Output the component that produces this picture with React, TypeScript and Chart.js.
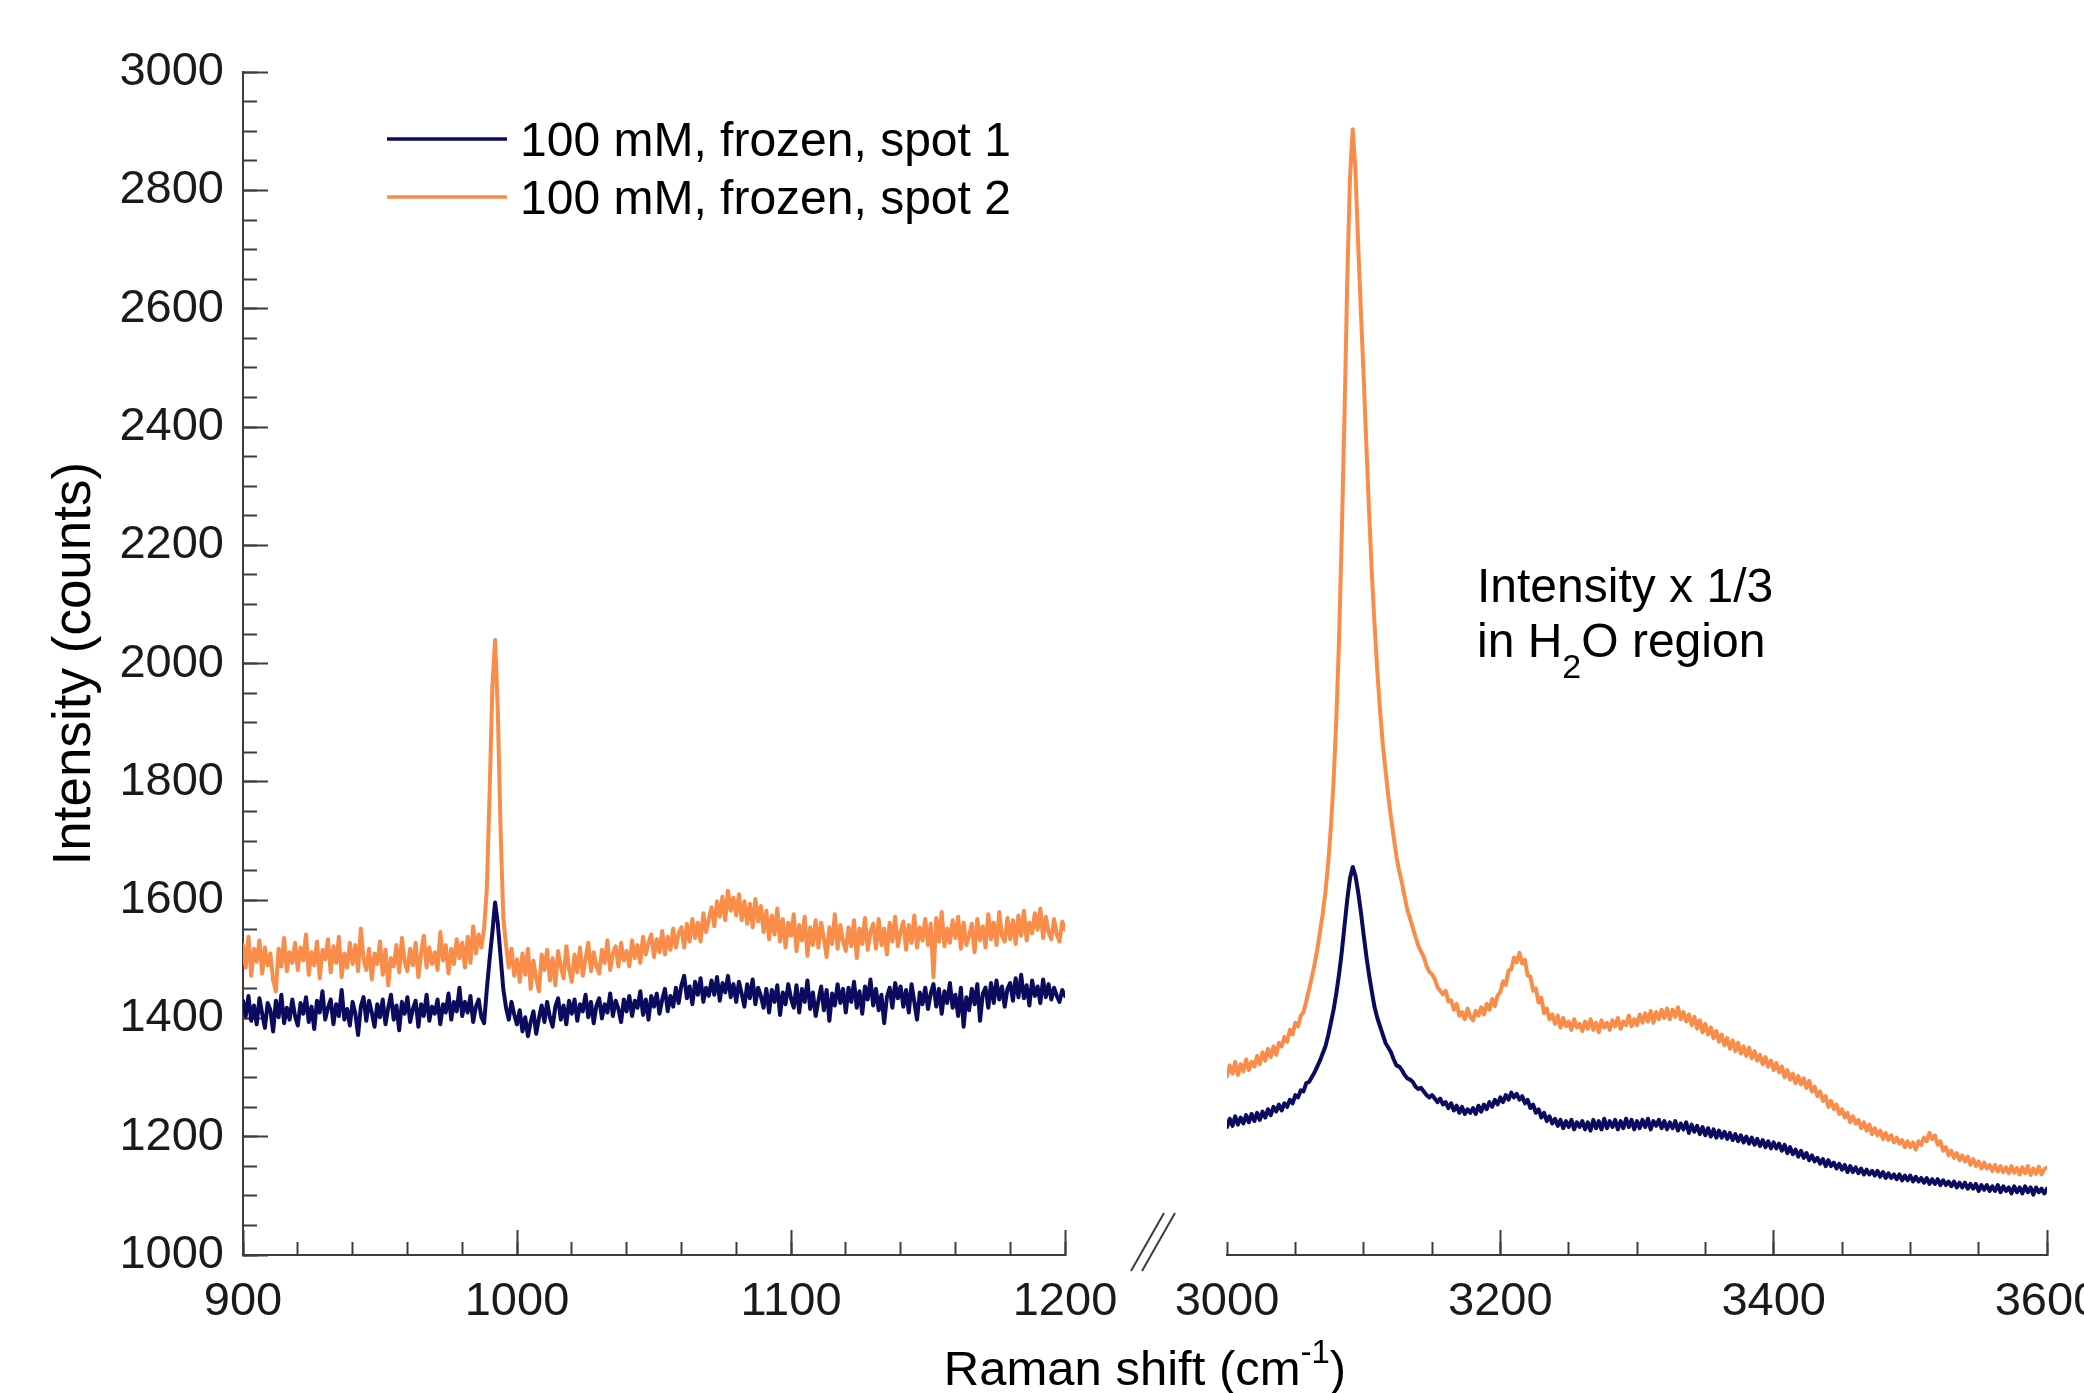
import React, { useEffect, useRef } from 'react';
import { Chart, registerables } from 'chart.js';

Chart.register(...registerables);

const W = 2084;
const H = 1393;
const FONT = '"Liberation Sans", Arial, Helvetica, sans-serif';
const NAVY = '#0a0b5f';
const ORANGE = '#fa8c4a';
const AXIS = '#3c3c3c';
const TEXT = '#1a1a1a';

// plot frame (pixels in the 2084x1393 page)
const PLOT_TOP = 70;
const PLOT_BOTTOM = 1255;
const LEFT_X0 = 243;
const LEFT_X1 = 1065;
const RIGHT_X0 = 1227;
const RIGHT_X1 = 2047;

const seriesLabels = ['100 mM, frozen, spot 1', '100 mM, frozen, spot 2'];
const yAxisTitle = 'Intensity (counts)';
const xAxisTitleMain = 'Raman shift (cm';
const xAxisTitleSup = '-1';
const xAxisTitleEnd = ')';
const noteLine1 = 'Intensity x 1/3';
const noteLine2 = ['in H', '2', 'O region'];

const yMin = 1000;
const yMax = 3000;
const yMajorStep = 200;
const yMinorStep = 50;
const leftMin = 900;
const leftMax = 1200;
const leftMajorStep = 100;
const leftMinorStep = 20;
const rightMin = 3000;
const rightMax = 3600;
const rightMajorStep = 200;
const rightMinorStep = 50;

// ---------- data: fingerprint region (900-1200 cm-1) ----------
const ramanLeft = [
  900, 901, 902, 903, 904, 905, 906, 907, 908, 909,
  910, 911, 912, 913, 914, 915, 916, 917, 918, 919,
  920, 921, 922, 923, 924, 925, 926, 927, 928, 929,
  930, 931, 932, 933, 934, 935, 936, 937, 938, 939,
  940, 941, 942, 943, 944, 945, 946, 947, 948, 949,
  950, 951, 952, 953, 954, 955, 956, 957, 958, 959,
  960, 961, 962, 963, 964, 965, 966, 967, 968, 969,
  970, 971, 972, 973, 974, 975, 976, 977, 978, 979,
  980, 981, 982, 983, 984, 985, 986, 987, 988, 989,
  990, 991, 992, 993, 994, 995, 996, 997, 998, 999,
  1000, 1001, 1002, 1003, 1004, 1005, 1006, 1007, 1008, 1009,
  1010, 1011, 1012, 1013, 1014, 1015, 1016, 1017, 1018, 1019,
  1020, 1021, 1022, 1023, 1024, 1025, 1026, 1027, 1028, 1029,
  1030, 1031, 1032, 1033, 1034, 1035, 1036, 1037, 1038, 1039,
  1040, 1041, 1042, 1043, 1044, 1045, 1046, 1047, 1048, 1049,
  1050, 1051, 1052, 1053, 1054, 1055, 1056, 1057, 1058, 1059,
  1060, 1061, 1062, 1063, 1064, 1065, 1066, 1067, 1068, 1069,
  1070, 1071, 1072, 1073, 1074, 1075, 1076, 1077, 1078, 1079,
  1080, 1081, 1082, 1083, 1084, 1085, 1086, 1087, 1088, 1089,
  1090, 1091, 1092, 1093, 1094, 1095, 1096, 1097, 1098, 1099,
  1100, 1101, 1102, 1103, 1104, 1105, 1106, 1107, 1108, 1109,
  1110, 1111, 1112, 1113, 1114, 1115, 1116, 1117, 1118, 1119,
  1120, 1121, 1122, 1123, 1124, 1125, 1126, 1127, 1128, 1129,
  1130, 1131, 1132, 1133, 1134, 1135, 1136, 1137, 1138, 1139,
  1140, 1141, 1142, 1143, 1144, 1145, 1146, 1147, 1148, 1149,
  1150, 1151, 1152, 1153, 1154, 1155, 1156, 1157, 1158, 1159,
  1160, 1161, 1162, 1163, 1164, 1165, 1166, 1167, 1168, 1169,
  1170, 1171, 1172, 1173, 1174, 1175, 1176, 1177, 1178, 1179,
  1180, 1181, 1182, 1183, 1184, 1185, 1186, 1187, 1188, 1189,
  1190, 1191, 1192, 1193, 1194, 1195, 1196, 1197, 1198, 1199,
  1200,
];

const spot1Left = [
  1430, 1404, 1438, 1396, 1422, 1390, 1434, 1408, 1384, 1426,
  1414, 1378, 1430, 1402, 1440, 1392, 1418, 1398, 1432, 1404,
  1388, 1426, 1408, 1436, 1394, 1420, 1382, 1430, 1410, 1446,
  1398, 1418, 1432, 1390, 1424, 1404, 1448, 1398, 1416, 1388,
  1428, 1408, 1372, 1420, 1436, 1396, 1430, 1410, 1386, 1424,
  1402, 1432, 1390, 1418, 1440, 1398, 1422, 1380, 1428, 1408,
  1436, 1394, 1416, 1430, 1386, 1424, 1404, 1440, 1396, 1420,
  1408, 1432, 1390, 1424, 1410, 1442, 1398, 1428, 1412, 1452,
  1404, 1428, 1410, 1438, 1394, 1420, 1432, 1402, 1392, 1450,
  1500, 1545, 1596, 1560, 1505, 1450, 1418, 1398, 1428, 1406,
  1390, 1414, 1378, 1402, 1370, 1394, 1412, 1374, 1400, 1422,
  1394, 1428, 1402, 1386, 1420, 1434, 1398, 1422, 1390, 1430,
  1408, 1432, 1396, 1424, 1412, 1440, 1402, 1428, 1392, 1422,
  1434, 1400, 1424, 1410, 1442, 1404, 1430, 1416, 1394, 1432,
  1412, 1438, 1404, 1430, 1418, 1446, 1406, 1432, 1398, 1438,
  1420, 1442, 1408, 1432, 1450, 1412, 1438, 1420, 1452, 1426,
  1456, 1472, 1434, 1454, 1424, 1462, 1440, 1468, 1428, 1452,
  1438, 1464, 1440, 1470, 1430, 1460, 1444, 1472, 1436, 1458,
  1428, 1462, 1442, 1420, 1458, 1434, 1466, 1424, 1452, 1438,
  1418, 1450, 1410, 1448, 1428, 1456, 1406, 1444, 1424, 1458,
  1434, 1418, 1456, 1410, 1450, 1428, 1464, 1416, 1444, 1404,
  1430, 1454, 1414, 1448, 1396, 1442, 1422, 1458, 1426, 1450,
  1410, 1452, 1428, 1462, 1418, 1446, 1408, 1454, 1432, 1466,
  1422, 1450, 1414, 1440, 1392, 1436, 1452, 1418, 1460, 1434,
  1454, 1420, 1448, 1410, 1458, 1428, 1398, 1444, 1424, 1452,
  1416, 1442, 1458, 1420, 1450, 1408, 1446, 1426, 1460, 1418,
  1440, 1404, 1452, 1386, 1436, 1414, 1450, 1424, 1458, 1396,
  1442, 1452, 1418, 1460, 1426, 1464, 1432, 1454, 1420, 1450,
  1460, 1430, 1468, 1436, 1474, 1434, 1456, 1422, 1464, 1438,
  1454, 1426, 1466, 1436, 1458, 1432, 1452, 1438, 1428, 1448,
  1438,
];

const spot2Left = [
  1524, 1486, 1538, 1472, 1518, 1496, 1532, 1476, 1520, 1490,
  1510, 1464, 1446, 1518, 1488, 1536, 1480, 1512, 1494, 1528,
  1482, 1520, 1498, 1542, 1474, 1512, 1490, 1530, 1468, 1516,
  1500, 1534, 1478, 1522, 1494, 1538, 1470, 1510, 1486, 1528,
  1492, 1524, 1480, 1552, 1500, 1482, 1518, 1466, 1510, 1492,
  1530, 1474, 1516, 1456, 1502, 1488, 1524, 1478, 1536, 1496,
  1480, 1518, 1490, 1528, 1470, 1510, 1540, 1486, 1520, 1492,
  1512, 1482, 1546, 1498, 1524, 1476, 1518, 1492, 1534, 1502,
  1528, 1486, 1538, 1494, 1556, 1510, 1542, 1520, 1552, 1620,
  1780, 1960, 2040, 1920, 1720, 1570, 1524, 1486, 1518, 1472,
  1500, 1462, 1510, 1474, 1518, 1450, 1498, 1468, 1446, 1508,
  1482, 1516, 1464, 1502, 1456, 1514, 1488, 1468, 1522, 1484,
  1462, 1508, 1478, 1520, 1472, 1500, 1528, 1480, 1512, 1488,
  1476, 1516, 1494, 1532, 1482, 1510, 1522, 1488, 1528, 1498,
  1514, 1488, 1532, 1502, 1524, 1494, 1538, 1508, 1528, 1542,
  1504, 1534, 1512, 1548, 1508, 1538, 1516, 1552, 1520, 1544,
  1554, 1520, 1560, 1530, 1568, 1536, 1562, 1530, 1578, 1546,
  1568, 1588, 1556, 1598, 1572, 1606, 1566, 1616, 1582, 1604,
  1574, 1610, 1566, 1598, 1560, 1594, 1554, 1602, 1564, 1590,
  1546, 1582, 1534, 1574, 1542, 1586, 1530, 1568, 1520, 1562,
  1540, 1576, 1514, 1558, 1532, 1572, 1506, 1554, 1524, 1566,
  1520, 1562, 1536, 1504, 1554, 1526, 1576, 1518, 1558, 1530,
  1514, 1554, 1522, 1566, 1502, 1552, 1526, 1570, 1516, 1546,
  1560, 1518, 1568, 1524, 1552, 1508, 1562, 1530, 1572, 1522,
  1546, 1564, 1516, 1558, 1528, 1574, 1520, 1554, 1532, 1568,
  1524, 1560, 1470, 1570, 1530, 1580, 1522, 1552, 1528, 1566,
  1536, 1572, 1518, 1562, 1524, 1540, 1560, 1512, 1568, 1532,
  1556, 1520, 1576, 1534, 1562, 1524, 1580, 1540, 1530, 1570,
  1534, 1566, 1526, 1574, 1540, 1582, 1532, 1562, 1544, 1578,
  1550, 1586, 1536, 1572, 1546, 1534, 1568, 1542, 1530, 1564,
  1550,
];

// ---------- data: O-H stretch region (3000-3600 cm-1), intensity x 1/3 ----------
const ramanRight = [
  3000, 3002, 3004, 3006, 3008, 3010, 3012, 3014, 3016, 3018,
  3020, 3022, 3024, 3026, 3028, 3030, 3032, 3034, 3036, 3038,
  3040, 3042, 3044, 3046, 3048, 3050, 3052, 3054, 3056, 3058,
  3060, 3062, 3064, 3066, 3068, 3070, 3072, 3074, 3076, 3078,
  3080, 3082, 3084, 3086, 3088, 3090, 3092, 3094, 3096, 3098,
  3100, 3102, 3104, 3106, 3108, 3110, 3112, 3114, 3116, 3118,
  3120, 3122, 3124, 3126, 3128, 3130, 3132, 3134, 3136, 3138,
  3140, 3142, 3144, 3146, 3148, 3150, 3152, 3154, 3156, 3158,
  3160, 3162, 3164, 3166, 3168, 3170, 3172, 3174, 3176, 3178,
  3180, 3182, 3184, 3186, 3188, 3190, 3192, 3194, 3196, 3198,
  3200, 3202, 3204, 3206, 3208, 3210, 3212, 3214, 3216, 3218,
  3220, 3222, 3224, 3226, 3228, 3230, 3232, 3234, 3236, 3238,
  3240, 3242, 3244, 3246, 3248, 3250, 3252, 3254, 3256, 3258,
  3260, 3262, 3264, 3266, 3268, 3270, 3272, 3274, 3276, 3278,
  3280, 3282, 3284, 3286, 3288, 3290, 3292, 3294, 3296, 3298,
  3300, 3302, 3304, 3306, 3308, 3310, 3312, 3314, 3316, 3318,
  3320, 3322, 3324, 3326, 3328, 3330, 3332, 3334, 3336, 3338,
  3340, 3342, 3344, 3346, 3348, 3350, 3352, 3354, 3356, 3358,
  3360, 3362, 3364, 3366, 3368, 3370, 3372, 3374, 3376, 3378,
  3380, 3382, 3384, 3386, 3388, 3390, 3392, 3394, 3396, 3398,
  3400, 3402, 3404, 3406, 3408, 3410, 3412, 3414, 3416, 3418,
  3420, 3422, 3424, 3426, 3428, 3430, 3432, 3434, 3436, 3438,
  3440, 3442, 3444, 3446, 3448, 3450, 3452, 3454, 3456, 3458,
  3460, 3462, 3464, 3466, 3468, 3470, 3472, 3474, 3476, 3478,
  3480, 3482, 3484, 3486, 3488, 3490, 3492, 3494, 3496, 3498,
  3500, 3502, 3504, 3506, 3508, 3510, 3512, 3514, 3516, 3518,
  3520, 3522, 3524, 3526, 3528, 3530, 3532, 3534, 3536, 3538,
  3540, 3542, 3544, 3546, 3548, 3550, 3552, 3554, 3556, 3558,
  3560, 3562, 3564, 3566, 3568, 3570, 3572, 3574, 3576, 3578,
  3580, 3582, 3584, 3586, 3588, 3590, 3592, 3594, 3596, 3598,
  3600,
];

const spot1Right = [
  1216, 1230, 1218, 1234, 1220, 1232, 1222, 1236, 1224, 1238,
  1226, 1240, 1228, 1242, 1232, 1246, 1236, 1250, 1242, 1254,
  1244, 1256, 1250, 1262, 1256, 1270, 1266, 1278, 1276, 1290,
  1292, 1300, 1308, 1318, 1328, 1340, 1352, 1370, 1392, 1414,
  1442, 1474, 1512, 1556, 1600, 1636, 1655, 1640, 1612, 1578,
  1540, 1504, 1472, 1444, 1418, 1400, 1386, 1372, 1358, 1350,
  1342, 1330, 1320, 1318, 1312, 1304, 1298, 1296, 1292, 1284,
  1280, 1282, 1276, 1270, 1266, 1270, 1264, 1258, 1264, 1254,
  1258, 1248, 1256, 1244, 1252, 1240, 1250, 1238, 1246, 1240,
  1248, 1238, 1252, 1242, 1254, 1246, 1258, 1250, 1262, 1254,
  1266, 1258, 1270, 1262, 1274, 1266, 1272, 1262, 1268, 1256,
  1262, 1248, 1254, 1240, 1246, 1232, 1240, 1226, 1234, 1222,
  1230, 1218, 1228, 1214, 1226, 1216, 1228, 1212, 1224, 1216,
  1226, 1212, 1224, 1210, 1228, 1214, 1226, 1212, 1230, 1214,
  1226, 1216, 1228, 1212, 1226, 1214, 1230, 1216, 1228, 1212,
  1226, 1214, 1228, 1216, 1230, 1212, 1226, 1218, 1228, 1214,
  1226, 1212, 1224, 1214, 1226, 1210, 1222, 1212, 1224, 1206,
  1220, 1208, 1218, 1204, 1216, 1202, 1214, 1200, 1212, 1198,
  1210, 1198, 1208, 1196, 1206, 1194, 1204, 1192, 1202, 1190,
  1200, 1188, 1198, 1186, 1196, 1184, 1194, 1182, 1192, 1180,
  1190, 1180, 1188, 1176, 1186, 1172, 1182, 1170, 1178, 1166,
  1176, 1164, 1172, 1160, 1168, 1158, 1164, 1154, 1162, 1150,
  1160, 1150, 1156, 1146, 1154, 1144, 1152, 1140, 1150, 1140,
  1148, 1138, 1146, 1136, 1144, 1136, 1142, 1134, 1142, 1132,
  1140, 1130, 1138, 1130, 1136, 1128, 1136, 1126, 1134, 1126,
  1134, 1124, 1132, 1124, 1130, 1122, 1130, 1120, 1128, 1120,
  1128, 1118, 1126, 1118, 1124, 1116, 1124, 1114, 1122, 1114,
  1122, 1112, 1120, 1112, 1120, 1108, 1118, 1110, 1118, 1108,
  1116, 1108, 1118, 1106, 1116, 1108, 1114, 1104, 1116, 1106,
  1114, 1104, 1116, 1106, 1114, 1102, 1114, 1106, 1112, 1104,
  1112,
];

const spot2Right = [
  1302, 1320, 1306, 1326, 1304, 1322, 1310, 1330, 1312, 1326,
  1318, 1336, 1322, 1342, 1328, 1348, 1334, 1352, 1338, 1358,
  1352, 1368, 1360, 1380, 1372, 1392, 1386, 1404, 1410, 1428,
  1448, 1468, 1490, 1515, 1545, 1575, 1612, 1660, 1722, 1800,
  1905, 2040, 2218, 2420, 2645, 2820, 2900, 2830, 2705, 2590,
  2482, 2365, 2252, 2150, 2062, 1985, 1918, 1862, 1818, 1775,
  1738, 1705, 1672, 1648, 1628, 1604, 1582, 1568, 1552, 1536,
  1522, 1512, 1503, 1488, 1478, 1474, 1466, 1452, 1446, 1440,
  1446, 1428, 1430, 1414, 1424, 1404, 1410, 1398, 1416, 1402,
  1396, 1412, 1404, 1418, 1406, 1424, 1414, 1432, 1420, 1438,
  1444, 1462, 1456, 1480, 1482, 1502, 1494, 1510, 1492, 1498,
  1472, 1470, 1446, 1450, 1426, 1434, 1408, 1416, 1398, 1406,
  1390, 1404, 1384, 1400, 1386, 1394, 1380, 1398, 1384, 1390,
  1378, 1394, 1382, 1398, 1380, 1392, 1376, 1396, 1384, 1392,
  1380, 1396, 1386, 1400, 1382, 1394, 1388, 1404, 1386, 1398,
  1388, 1406, 1392, 1408, 1394, 1412, 1392, 1410, 1398, 1414,
  1400, 1416, 1398, 1414, 1402, 1418, 1398, 1410, 1394, 1406,
  1388, 1402, 1382, 1396, 1376, 1390, 1372, 1384, 1366, 1378,
  1360, 1372, 1354, 1366, 1348, 1362, 1344, 1358, 1340, 1352,
  1336, 1350, 1332, 1344, 1328, 1338, 1322, 1334, 1318, 1328,
  1312, 1324, 1308, 1318, 1300, 1312, 1296, 1306, 1290, 1302,
  1288, 1298, 1282, 1294, 1276, 1284, 1268, 1276, 1260, 1268,
  1250, 1260, 1246, 1254, 1238, 1246, 1232, 1240, 1224, 1234,
  1222, 1228, 1214, 1224, 1210, 1220, 1204, 1214, 1202, 1210,
  1196, 1206, 1194, 1202, 1190, 1198, 1188, 1194, 1182, 1192,
  1182, 1190, 1178, 1192, 1186, 1198, 1192, 1206, 1196, 1202,
  1186, 1192, 1176, 1182, 1168, 1176, 1164, 1172, 1160, 1168,
  1158, 1166, 1152, 1162, 1150, 1158, 1146, 1156, 1146, 1152,
  1142, 1152, 1141, 1150, 1140, 1148, 1138, 1150, 1139, 1147,
  1136, 1148, 1138, 1150, 1135, 1146, 1137, 1149, 1136, 1145,
  1148,
];

const seriesColors = [NAVY, ORANGE];

function makeDatasets(xs: number[], series: number[][]) {
  return series.map((ys, i) => ({
    label: seriesLabels[i],
    data: xs.map((x, j) => ({ x, y: ys[j] })),
    borderColor: seriesColors[i],
    backgroundColor: seriesColors[i],
    borderWidth: 4,
    borderJoinStyle: 'round' as const,
    borderCapStyle: 'round' as const,
    pointRadius: 0,
    tension: 0,
    fill: false,
    xAxisID: 'x',
    yAxisID: 'y',
    order: series.length - i,
  }));
}

const tickFont = { family: FONT, size: 47 };

function majorX(min: number, max: number, step: number, hideAt: number | null) {
  return {
    type: 'linear' as const,
    position: 'bottom' as const,
    min,
    max,
    weight: 2,
    ticks: {
      stepSize: step,
      autoSkip: false,
      maxRotation: 0,
      minRotation: 0,
      padding: 44,
      color: TEXT,
      font: tickFont,
      callback: (v: any) => String(v),
    },
    grid: {
      display: true,
      drawOnChartArea: false,
      drawTicks: true,
      tickLength: -25,
      tickWidth: 2,
      tickColor: (c: any) => (hideAt !== null && c.tick && c.tick.value === hideAt ? 'rgba(0,0,0,0)' : AXIS),
    },
    border: { display: true, color: AXIS, width: 2 },
    afterFit: (s: any) => {
      s.height = H - PLOT_BOTTOM;
      s.paddingLeft = 0;
      s.paddingRight = 0;
    },
  };
}

function minorX(min: number, max: number, step: number) {
  return {
    type: 'linear' as const,
    position: 'bottom' as const,
    min,
    max,
    weight: 0,
    ticks: { stepSize: step, display: false },
    grid: { display: true, drawOnChartArea: false, drawTicks: true, tickLength: -13, tickWidth: 2, tickColor: AXIS },
    border: { display: false },
    afterFit: (s: any) => {
      s.height = 0;
      s.paddingLeft = 0;
      s.paddingRight = 0;
    },
  };
}

const leftDecor = {
  id: 'leftDecor',
  afterDraw(chart: any) {
    const ctx = chart.ctx as CanvasRenderingContext2D;
    ctx.save();
    // legend
    chart.data.datasets.forEach((ds: any, i: number) => {
      const y = 139 + i * 58;
      ctx.strokeStyle = ds.borderColor;
      ctx.lineWidth = 3.5;
      ctx.beginPath();
      ctx.moveTo(387, y);
      ctx.lineTo(507, y);
      ctx.stroke();
      ctx.fillStyle = '#000';
      ctx.font = `48px ${FONT}`;
      ctx.textAlign = 'left';
      ctx.textBaseline = 'alphabetic';
      ctx.fillText(ds.label, 520, y + 16.5);
    });
    // axis break marks
    ctx.strokeStyle = AXIS;
    ctx.lineWidth = 2;
    [[1131, 1271, 1164, 1213], [1142, 1271, 1175, 1213]].forEach(([a, b, c, d]) => {
      ctx.beginPath();
      ctx.moveTo(a, b);
      ctx.lineTo(c, d);
      ctx.stroke();
    });
    // shared x-axis title with superscript
    const mainFont = `49px ${FONT}`;
    const supFont = `33px ${FONT}`;
    ctx.font = mainFont;
    const w1 = ctx.measureText(xAxisTitleMain).width;
    const w3 = ctx.measureText(xAxisTitleEnd).width;
    ctx.font = supFont;
    const w2 = ctx.measureText(xAxisTitleSup).width;
    const cx = (LEFT_X0 + RIGHT_X1) / 2;
    let x = cx - (w1 + w2 + w3) / 2;
    const base = 1385;
    ctx.fillStyle = '#000';
    ctx.textAlign = 'left';
    ctx.textBaseline = 'alphabetic';
    ctx.font = mainFont;
    ctx.fillText(xAxisTitleMain, x, base);
    x += w1;
    ctx.font = supFont;
    ctx.fillText(xAxisTitleSup, x, base - 22);
    x += w2;
    ctx.font = mainFont;
    ctx.fillText(xAxisTitleEnd, x, base);
    ctx.restore();
  },
};

const rightDecor = {
  id: 'rightDecor',
  afterDraw(chart: any) {
    const ctx = chart.ctx as CanvasRenderingContext2D;
    ctx.save();
    const mainFont = `48px ${FONT}`;
    const subFont = `34px ${FONT}`;
    ctx.fillStyle = '#000';
    ctx.textAlign = 'left';
    ctx.textBaseline = 'alphabetic';
    const x0 = 1477;
    ctx.font = mainFont;
    ctx.fillText(noteLine1, x0, 602);
    let x = x0;
    ctx.fillText(noteLine2[0], x, 657);
    x += ctx.measureText(noteLine2[0]).width;
    ctx.font = subFont;
    ctx.fillText(noteLine2[1], x, 678);
    x += ctx.measureText(noteLine2[1]).width;
    ctx.font = mainFont;
    ctx.fillText(noteLine2[2], x, 657);
    ctx.restore();
  },
};

function leftConfig(): any {
  return {
    type: 'line',
    data: { datasets: makeDatasets(ramanLeft, [spot1Left, spot2Left]) },
    options: {
      responsive: false,
      animation: false,
      devicePixelRatio: 1,
      events: [],
      layout: { padding: { left: 0, top: PLOT_TOP, right: W - LEFT_X1, bottom: 0 } },
      plugins: { legend: { display: false }, tooltip: { enabled: false } },
      scales: {
        x: majorX(leftMin, leftMax, leftMajorStep, null),
        xMinor: minorX(leftMin, leftMax, leftMinorStep),
        y: {
          type: 'linear',
          position: 'left',
          min: yMin,
          max: yMax,
          weight: 2,
          ticks: {
            stepSize: yMajorStep,
            padding: 44,
            color: TEXT,
            font: tickFont,
            callback: (v: any) => String(v),
          },
          grid: { display: true, drawOnChartArea: false, drawTicks: true, tickLength: -25, tickWidth: 2, tickColor: AXIS },
          border: { display: true, color: AXIS, width: 2 },
          title: {
            display: true,
            text: yAxisTitle,
            color: '#000',
            font: { family: FONT, size: 53 },
            padding: { top: 44, bottom: 0 },
          },
          afterFit: (s: any) => {
            s.width = LEFT_X0;
          },
        },
        yMinor: {
          type: 'linear',
          position: 'left',
          min: yMin,
          max: yMax,
          weight: 0,
          ticks: { stepSize: yMinorStep, display: false },
          grid: { display: true, drawOnChartArea: false, drawTicks: true, tickLength: -14, tickWidth: 2, tickColor: AXIS },
          border: { display: false },
          afterFit: (s: any) => {
            s.width = 0;
          },
        },
      },
    },
    plugins: [leftDecor],
  };
}

function rightConfig(): any {
  return {
    type: 'line',
    data: { datasets: makeDatasets(ramanRight, [spot1Right, spot2Right]) },
    options: {
      responsive: false,
      animation: false,
      devicePixelRatio: 1,
      events: [],
      layout: { padding: { left: RIGHT_X0, top: PLOT_TOP, right: W - RIGHT_X1, bottom: 0 } },
      plugins: { legend: { display: false }, tooltip: { enabled: false } },
      scales: {
        x: majorX(rightMin, rightMax, rightMajorStep, rightMin),
        xMinor: minorX(rightMin, rightMax, rightMinorStep),
        y: { type: 'linear', display: false, min: yMin, max: yMax },
      },
    },
    plugins: [rightDecor],
  };
}

export default function App() {
  const leftRef = useRef<HTMLCanvasElement>(null);
  const rightRef = useRef<HTMLCanvasElement>(null);

  useEffect(() => {
    const left = new Chart(leftRef.current as HTMLCanvasElement, leftConfig());
    const right = new Chart(rightRef.current as HTMLCanvasElement, rightConfig());
    return () => {
      left.destroy();
      right.destroy();
    };
  }, []);

  const canvasStyle: React.CSSProperties = { position: 'absolute', left: 0, top: 0, width: W, height: H };

  return (
    <div style={{ position: 'fixed', left: 0, top: 0, width: W, height: H, overflow: 'hidden', background: '#ffffff' }}>
      <canvas ref={leftRef} width={W} height={H} style={canvasStyle} />
      <canvas ref={rightRef} width={W} height={H} style={canvasStyle} />
    </div>
  );
}
